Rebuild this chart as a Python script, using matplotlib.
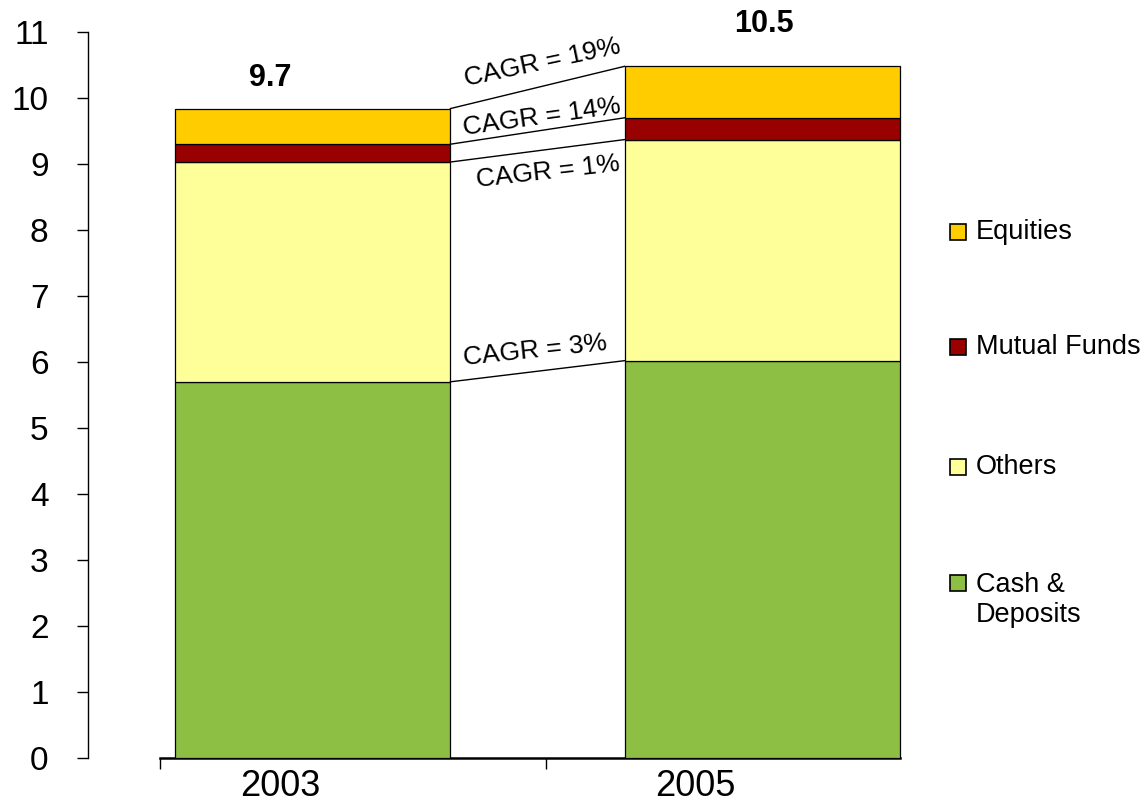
import matplotlib
matplotlib.use("Agg")
import matplotlib.pyplot as plt
import matplotlib.patches as mpatches
import numpy as np

plt.rcParams["font.family"] = ["Liberation Sans", "DejaVu Sans"]

# ── Data ─────────────────────────────────────────────────────────────
years = ["2003", "2005"]
series = ["Cash &\nDeposits", "Others", "Mutual Funds", "Equities"]
cash = [5.70, 6.02]
others = [3.33, 3.35]
mutual_funds = [0.27, 0.33]
equities = [0.54, 0.78]
totals_text = ["9.7", "10.5"]
cagr_text = ["CAGR = 3%", "CAGR = 1%", "CAGR = 14%", "CAGR = 19%"]

colours = ["#8DBF45", "#FFFF99", "#990000", "#FFCC00"]

# ── Layout ───────────────────────────────────────────────────────────
W, H = 1144, 807
BAR_W = 0.613
cagr_dy = [0.32, -0.32, 0.21, 0.38]     # offset from line midpoint
cagr_dx = [-0.006, 0.023, 0.010, 0.012]
cagr_rot = [6, 6.5, 8, 12]
total_dy = [0.46, 0.64]
total_dx = [-0.093, 0.004]
year_dx = [-0.072, -0.15]               # labels sit left of bar centres

fig = plt.figure(figsize=(W / 100, H / 100), dpi=100, facecolor="white")
ax = fig.add_axes([87.5 / W, 1 - 758 / H, 900 / W, 726 / H])

x = np.arange(len(years))
stack = [cash, others, mutual_funds, equities]
bottom = np.zeros(len(years))
tops = []
for vals, col in zip(stack, colours):
    ax.bar(x, vals, BAR_W, bottom=bottom, color=col, edgecolor="black",
           linewidth=0.9, zorder=3)
    bottom = bottom + np.array(vals)
    tops.append(bottom.copy())

# connector lines between the two bars + CAGR labels
for i, top in enumerate(tops):
    ax.plot([x[0] + BAR_W / 2, x[1] - BAR_W / 2], top, color="black",
            linewidth=1.0, zorder=4)
    ax.text(0.5 + cagr_dx[i], top.mean() + cagr_dy[i], cagr_text[i],
            fontsize=19, rotation=cagr_rot[i], ha="center", va="center",
            rotation_mode="anchor")

# totals above bars
for i, t in enumerate(totals_text):
    ax.text(x[i] + total_dx[i], bottom[i] + total_dy[i], t, fontsize=22,
            fontweight="bold", ha="center", va="center")

# axes styling
ax.set_xlim(-0.5, 1.5)
ax.set_ylim(0, 11)
ax.set_yticks(range(0, 12))
ax.tick_params(axis="y", labelsize=24, length=8, width=1, pad=20)
for s in ["top", "right"]:
    ax.spines[s].set_visible(False)
ax.spines["left"].set_linewidth(1)
ax.spines["bottom"].set_linewidth(1.8)
ax.spines["bottom"].set_bounds(-0.34, x[1] + BAR_W / 2)

ax.set_xticks([-0.34, 0.518])
ax.set_xticklabels([])
ax.tick_params(axis="x", which="major", length=8, width=1)
ax.set_xticks(x + np.array(year_dx), minor=True)
ax.set_xticklabels(years, minor=True)
ax.tick_params(axis="x", which="minor", length=0, labelsize=26, pad=8)

# legend (manual, to keep the wide spacing of the reference)
leg_y = [583, 467, 347, 232]
for lab, col, yc in zip(series, colours, leg_y):
    fig.patches.append(mpatches.Rectangle(
        (950 / W, 1 - (yc + 8) / H), 16 / W, 16 / H, transform=fig.transFigure,
        facecolor=col, edgecolor="black", linewidth=1.2))
    nl = lab.count("\n")
    fig.text(976 / W, 1 - (yc + nl * 17) / H, lab, fontsize=19.5,
             ha="left", va="center", linespacing=1.15)

fig.savefig("out.png", dpi=100, facecolor="white")
